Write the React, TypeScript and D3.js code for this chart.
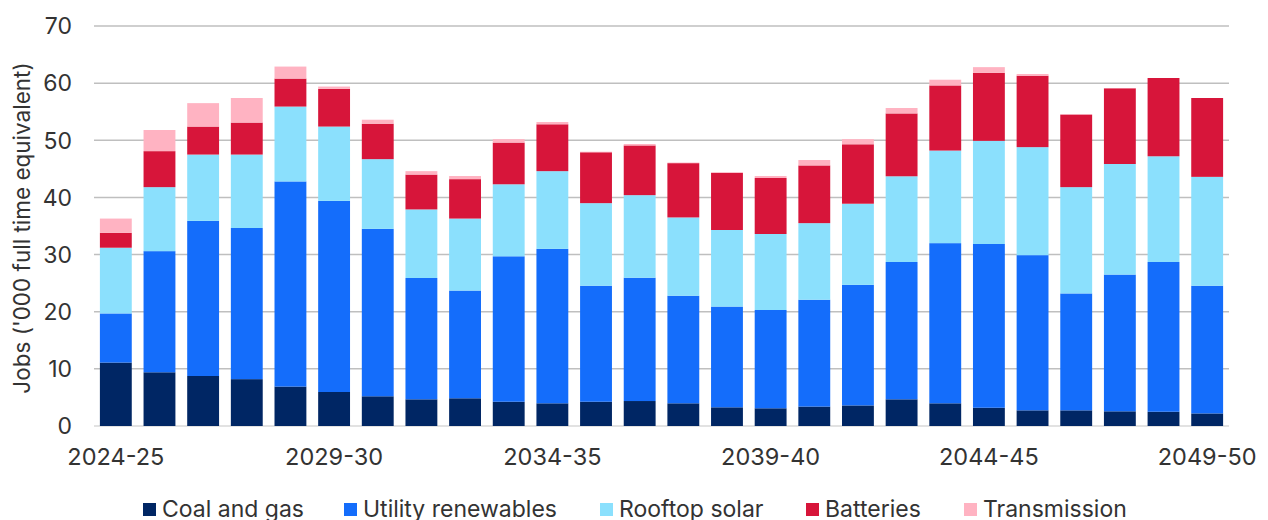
import React from "react";
import * as d3 from "d3";

const categories = [
  "2024-25", "2025-26", "2026-27", "2027-28", "2028-29", "2029-30", "2030-31",
  "2031-32", "2032-33", "2033-34", "2034-35", "2035-36", "2036-37", "2037-38",
  "2038-39", "2039-40", "2040-41", "2041-42", "2042-43", "2043-44", "2044-45",
  "2045-46", "2046-47", "2047-48", "2048-49", "2049-50",
];

const coalAndGas = [11.1, 9.4, 8.75, 8.2, 6.9, 5.95, 5.2, 4.67, 4.85, 4.25, 3.97, 4.25, 4.37, 3.97, 3.27, 3.1, 3.4, 3.6, 4.67, 3.97, 3.2, 2.74, 2.74, 2.57, 2.5, 2.2];
const utilityRenewables = [8.6, 21.2, 27.15, 26.45, 35.9, 33.45, 29.3, 21.23, 18.85, 25.45, 27.03, 20.3, 21.58, 18.83, 17.63, 17.2, 18.7, 21.1, 24.03, 28.03, 28.65, 27.16, 20.46, 23.93, 26.2, 22.35];
const rooftopSolar = [11.5, 11.2, 11.6, 12.85, 13.1, 13.0, 12.2, 12.0, 12.6, 12.6, 13.6, 14.45, 14.45, 13.7, 13.4, 13.3, 13.4, 14.2, 15.0, 16.2, 18.05, 18.9, 18.6, 19.35, 18.5, 19.05];
const batteries = [2.6, 6.3, 4.9, 5.6, 4.9, 6.6, 6.2, 6.1, 6.9, 7.3, 8.2, 8.9, 8.7, 9.5, 10.0, 9.8, 10.1, 10.4, 11.0, 11.4, 11.9, 12.5, 12.7, 13.25, 13.7, 13.8];
const transmission = [2.5, 3.7, 4.1, 4.3, 2.1, 0.4, 0.7, 0.6, 0.55, 0.6, 0.4, 0.1, 0.25, 0.1, 0.1, 0.35, 0.95, 0.9, 0.95, 1.0, 1.0, 0.3, 0.05, 0.05, 0, 0];

const seriesNames = ["Coal and gas", "Utility renewables", "Rooftop solar", "Batteries", "Transmission"];
const seriesColors = ["#002664", "#146dfb", "#8be0fd", "#d7153a", "#ffb3c2"];
const yTicks = [0, 10, 20, 30, 40, 50, 60, 70];
const xTickLabels = ["2024-25", "2029-30", "2034-35", "2039-40", "2044-45", "2049-50"];

const W = 1268;
const H = 520;
const FONT = "Inter, 'Noto Sans', 'Liberation Sans', sans-serif";
const TEXT = "#333333";

export default function App() {
  const keys = ["coal", "util", "roof", "batt", "trans"];
  const seriesArrays = [coalAndGas, utilityRenewables, rooftopSolar, batteries, transmission];
  const rows = categories.map((c, i) => {
    const r: any = { cat: c };
    keys.forEach((k, j) => (r[k] = seriesArrays[j][i]));
    return r;
  });
  const stacked = d3.stack().keys(keys)(rows);

  const x = d3.scaleBand<string>().domain(categories).range([94, 1229]).paddingInner(0.27).paddingOuter(0.135);
  const y = d3.scaleLinear().domain([0, 70]).range([426, 26]);

  const legendX = [143, 344, 600, 806, 964];

  return (
    <svg width={W} height={H} style={{ position: "absolute", left: 0, top: 0, display: "block", background: "#fff" }} fontFamily={FONT}>
      {yTicks.map((t) => (
        <line key={"g" + t} x1={94} x2={1229} y1={y(t)} y2={y(t)} stroke={t === 0 ? "#d9d9d9" : "#bfbfbf"} strokeWidth={1.5} />
      ))}
      {yTicks.map((t) => (
        <text key={"yt" + t} x={72} y={y(t)} dy="0.36em" textAnchor="end" fontSize={23} fill={TEXT}>
          {t}
        </text>
      ))}
      <text transform={`translate(30, 228) rotate(-90)`} textAnchor="middle" fontSize={22.5} fill={TEXT}>
        Jobs ('000 full time equivalent)
      </text>
      {stacked.map((s, si) => (
        <g key={s.key} fill={seriesColors[si]}>
          {s.map((d: any, i: number) => (
            <rect
              key={i}
              x={x(categories[i])}
              width={x.bandwidth()}
              y={y(d[1])}
              height={Math.max(0, y(d[0]) - y(d[1]))}
            />
          ))}
        </g>
      ))}
      {xTickLabels.map((l) => (
        <text key={l} x={(x(l) as number) + x.bandwidth() / 2} y={465} textAnchor="middle" fontSize={23.5} fill={TEXT}>
          {l}
        </text>
      ))}
      {seriesNames.map((n, i) => (
        <g key={n}>
          <rect x={legendX[i]} y={503} width={13} height={13} fill={seriesColors[i]} />
          <text x={legendX[i] + 19} y={517} fontSize={23} fill={TEXT}>
            {n}
          </text>
        </g>
      ))}
    </svg>
  );
}
